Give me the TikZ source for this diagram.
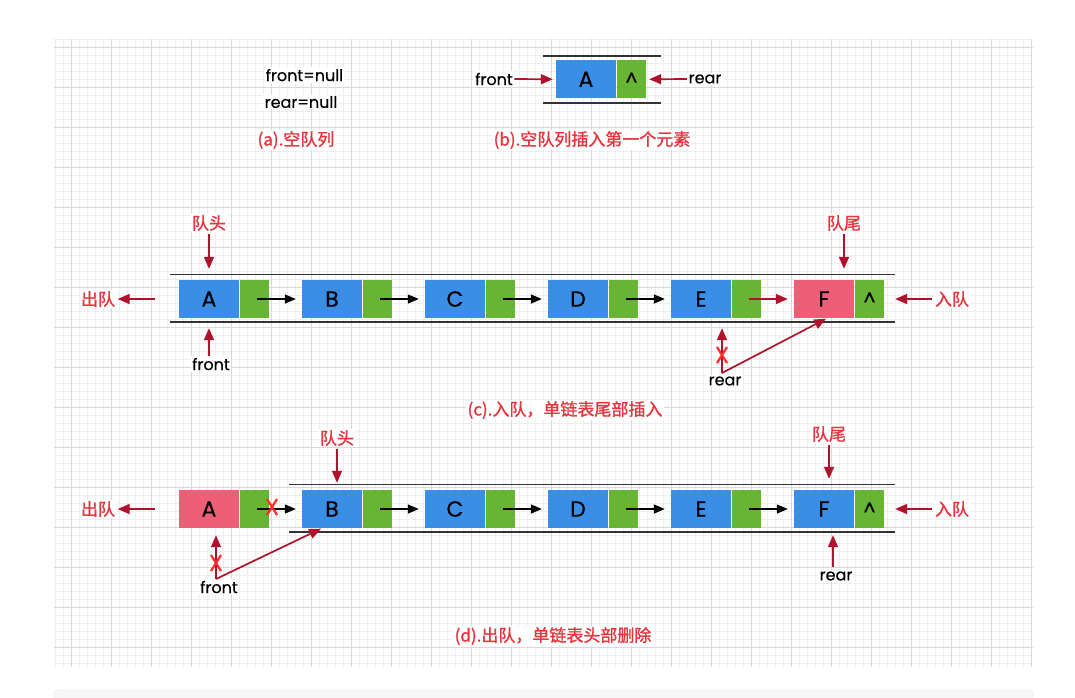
\documentclass[tikz,border=0pt]{standalone}
\usepackage{fontspec}
\setmainfont{Poppins}[FakeBold=0.4]
\newfontfamily\cjk{Noto Sans CJK SC}[FakeBold=1.2]
\usetikzlibrary{arrows.meta}
\definecolor{qblue}{HTML}{3A8EE6}
\definecolor{qgreen}{HTML}{68B536}
\definecolor{qpink}{HTML}{EE5F77}
\definecolor{qdred}{HTML}{B0122C}
\definecolor{qred}{HTML}{E8343C}
\definecolor{qx}{HTML}{FF2A2A}
\definecolor{gminor}{HTML}{EEEEEE}
\definecolor{gmajor}{HTML}{D9D9D9}
\tikzset{
  bluebox/.style={fill=qblue, minimum width=60pt, minimum height=38pt, inner sep=0pt, font=\fontsize{22}{22}\selectfont},
  pinkbox/.style={bluebox, fill=qpink},
  greenbox/.style={fill=qgreen, minimum width=29pt, minimum height=38pt, inner sep=0pt, font=\fontsize{19}{19}\selectfont},
  rail/.style={line width=1.6pt, draw=black!80},
  blkarr/.style={-{Triangle[length=11pt,width=9pt]}, line width=1.4pt, draw=black},
  redarr/.style={-{Triangle[length=12pt,width=10pt]}, line width=1.7pt, draw=qdred, color=qdred},
  lbl/.style={font=\fontsize{16}{16}\selectfont, inner sep=1.5pt, fill=white},
  redlbl/.style={font=\fontsize{17}{17}\selectfont\cjk, text=qred, inner sep=1.5pt, fill=white},
  xmark/.style={draw=qx, line width=2.2pt},
}
\begin{document}
\begin{tikzpicture}[x=1pt,y=-1pt]
\useasboundingbox (0,0) rectangle (1075,697);
\fill[white] (0,0) rectangle (1075,697);
% grid
\begin{scope}
\clip (54,39) rectangle (1033,667);
\foreach \x in {55,63,...,1035} \draw[gminor, line width=0.7pt] (\x,39) -- (\x,667);
\foreach \y in {39,47,...,667} \draw[gminor, line width=0.7pt] (54,\y) -- (1033,\y);
\foreach \x in {71,111,...,1035} \draw[gmajor, line width=0.8pt] (\x,39) -- (\x,667);
\foreach \y in {47,87,...,667} \draw[gmajor, line width=0.8pt] (54,\y) -- (1033,\y);
\end{scope}
% bottom panel
\draw[draw=black!10, fill=black!3, rounded corners=4pt] (54,690) rectangle (1033,710);

% ---------- (a)
\node[lbl, anchor=west] (anullf) at (264,75) {front=null};
\node[lbl, anchor=west] (anullr) at (263,102) {rear=null};
\node[redlbl] (acap) at (296,140) {(a).空队列};

% ---------- (b)
\draw[rail] (543,55.7) -- (661,55.7);
\draw[rail] (543,103) -- (661,103);
\node[bluebox] (bA) at (586,79.3) {A};
\node[greenbox] (bA2) at (631.5,79.3) {\textasciicircum};
\node[lbl] (bfront) at (494,79) {front};
\node[lbl] (brear) at (705,79) {rear};
\draw[redarr, shorten >=3pt] (bfront.east) -- (bA.west);
\draw[redarr, shorten >=3pt] (brear.west) -- (bA2.east);
\node[redlbl] (bcap) at (592,140) {(b).空队列插入第一个元素};

% ---------- (c)
\draw[rail] (170,274.3) -- (895,274.3);
\draw[rail] (170,322) -- (895,322);
\node[bluebox] (cA) at (209,299) {A};
\node[greenbox] (cA2) at (254.5,299) {};
\node[bluebox] (cB) at (332,299) {B};
\node[greenbox] (cB2) at (377.5,299) {};
\node[bluebox] (cC) at (455,299) {C};
\node[greenbox] (cC2) at (500.5,299) {};
\node[bluebox] (cD) at (578,299) {D};
\node[greenbox] (cD2) at (623.5,299) {};
\node[bluebox] (cE) at (701,299) {E};
\node[greenbox] (cE2) at (746.5,299) {};
\node[pinkbox] (cF) at (824,299) {F};
\node[greenbox] (cF2) at (869.5,299) {\textasciicircum};
\draw[blkarr, shorten >=6pt] ([xshift=2.5pt]cA2.center) -- (cB.west);
\draw[blkarr, shorten >=6pt] ([xshift=2.5pt]cB2.center) -- (cC.west);
\draw[blkarr, shorten >=6pt] ([xshift=2.5pt]cC2.center) -- (cD.west);
\draw[blkarr, shorten >=6pt] ([xshift=2.5pt]cD2.center) -- (cE.west);
\draw[redarr, shorten >=6pt] ([xshift=2.5pt]cE2.center) -- (cF.west);

\node[redlbl] (cHead) at (209,223) {队头};
\draw[redarr, shorten <=1pt, shorten >=11pt] (cHead.south) -- (cA.north);
\node[redlbl] (cTail) at (844,223) {队尾};
\draw[redarr, shorten <=1pt, shorten >=11pt] (cTail.south) -- (cTail.south |- cF.north);
\node[redlbl] (cOut) at (98,299) {出队};
\coordinate (cOutS) at (155,299);
\draw[redarr, shorten >=1pt] (cOutS) -- (cOut.east);
\node[redlbl] (cIn) at (952,299) {入队};
\draw[redarr, shorten <=1pt, shorten >=11pt] (cIn.west) -- (cF2.east);

\node[lbl] (cFront) at (211,364) {front};
\draw[redarr, shorten >=10pt] (cA.south |- cFront.north) -- (cA.south);
\node[lbl] (cRear) at (725,381) {rear};
\coordinate (cRearO) at (722,373);
\draw[redarr, shorten >=10pt] (cRearO) -- (cRearO |- cE.south);
\draw[redarr, shorten >=1pt] (cRearO) -- ([xshift=3pt]cF.south);
\coordinate (cX) at (722,355);
\draw[xmark] ([shift={(-5,-8)}]cX) -- ([shift={(5,8)}]cX) ([shift={(5,-8)}]cX) -- ([shift={(-5,8)}]cX);
\node[redlbl] (ccap) at (565,410) {(c).入队，单链表尾部插入};

% ---------- (d)
\draw[rail] (289,484.3) -- (895,484.3);
\draw[rail] (289,532) -- (895,532);
\node[pinkbox] (dA) at (209,509) {A};
\node[greenbox] (dA2) at (254.5,509) {};
\node[bluebox] (dB) at (332,509) {B};
\node[greenbox] (dB2) at (377.5,509) {};
\node[bluebox] (dC) at (455,509) {C};
\node[greenbox] (dC2) at (500.5,509) {};
\node[bluebox] (dD) at (578,509) {D};
\node[greenbox] (dD2) at (623.5,509) {};
\node[bluebox] (dE) at (701,509) {E};
\node[greenbox] (dE2) at (746.5,509) {};
\node[bluebox] (dF) at (824,509) {F};
\node[greenbox] (dF2) at (869.5,509) {\textasciicircum};
\draw[blkarr, shorten >=6pt] ([xshift=2.5pt]dA2.center) -- (dB.west);
\draw[blkarr, shorten >=6pt] ([xshift=2.5pt]dB2.center) -- (dC.west);
\draw[blkarr, shorten >=6pt] ([xshift=2.5pt]dC2.center) -- (dD.west);
\draw[blkarr, shorten >=6pt] ([xshift=2.5pt]dD2.center) -- (dE.west);
\draw[blkarr, shorten >=6pt] ([xshift=2.5pt]dE2.center) -- (dF.west);
\coordinate (dX1) at (272,507);
\draw[xmark] ([shift={(-5,-8)}]dX1) -- ([shift={(5,8)}]dX1) ([shift={(5,-8)}]dX1) -- ([shift={(-5,8)}]dX1);

\node[redlbl] (dHead) at (337,438) {队头};
\draw[redarr, shorten <=1pt, shorten >=7pt] (dHead.south) -- (dHead.south |- dB.north);
\node[redlbl] (dTail) at (829,434) {队尾};
\draw[redarr, shorten <=1pt, shorten >=11pt] (dTail.south) -- (dTail.south |- dF.north);
\node[redlbl] (dOut) at (98,509) {出队};
\coordinate (dOutS) at (155,509);
\draw[redarr, shorten >=1pt] (dOutS) -- (dOut.east);
\node[redlbl] (dIn) at (952,509) {入队};
\draw[redarr, shorten <=1pt, shorten >=11pt] (dIn.west) -- (dF2.east);

\node[lbl] (dFront) at (219,587) {front};
\coordinate (dFrontO) at (216,579);
\draw[redarr, shorten >=7pt] (dFrontO) -- (dFrontO |- dA.south);
\draw[redarr, shorten >=1pt] (dFrontO) -- ([xshift=-10pt]dB.south);
\coordinate (dX2) at (216,563);
\draw[xmark] ([shift={(-5,-8)}]dX2) -- ([shift={(5,8)}]dX2) ([shift={(5,-8)}]dX2) -- ([shift={(-5,8)}]dX2);
\node[lbl] (dRear) at (836,576) {rear};
\coordinate (dRearO) at (833,567);
\draw[redarr, shorten >=7pt] (dRearO) -- (dRearO |- dF.south);
\node[redlbl] (dcap) at (553,636) {(d).出队，单链表头部删除};
\end{tikzpicture}
\end{document}
